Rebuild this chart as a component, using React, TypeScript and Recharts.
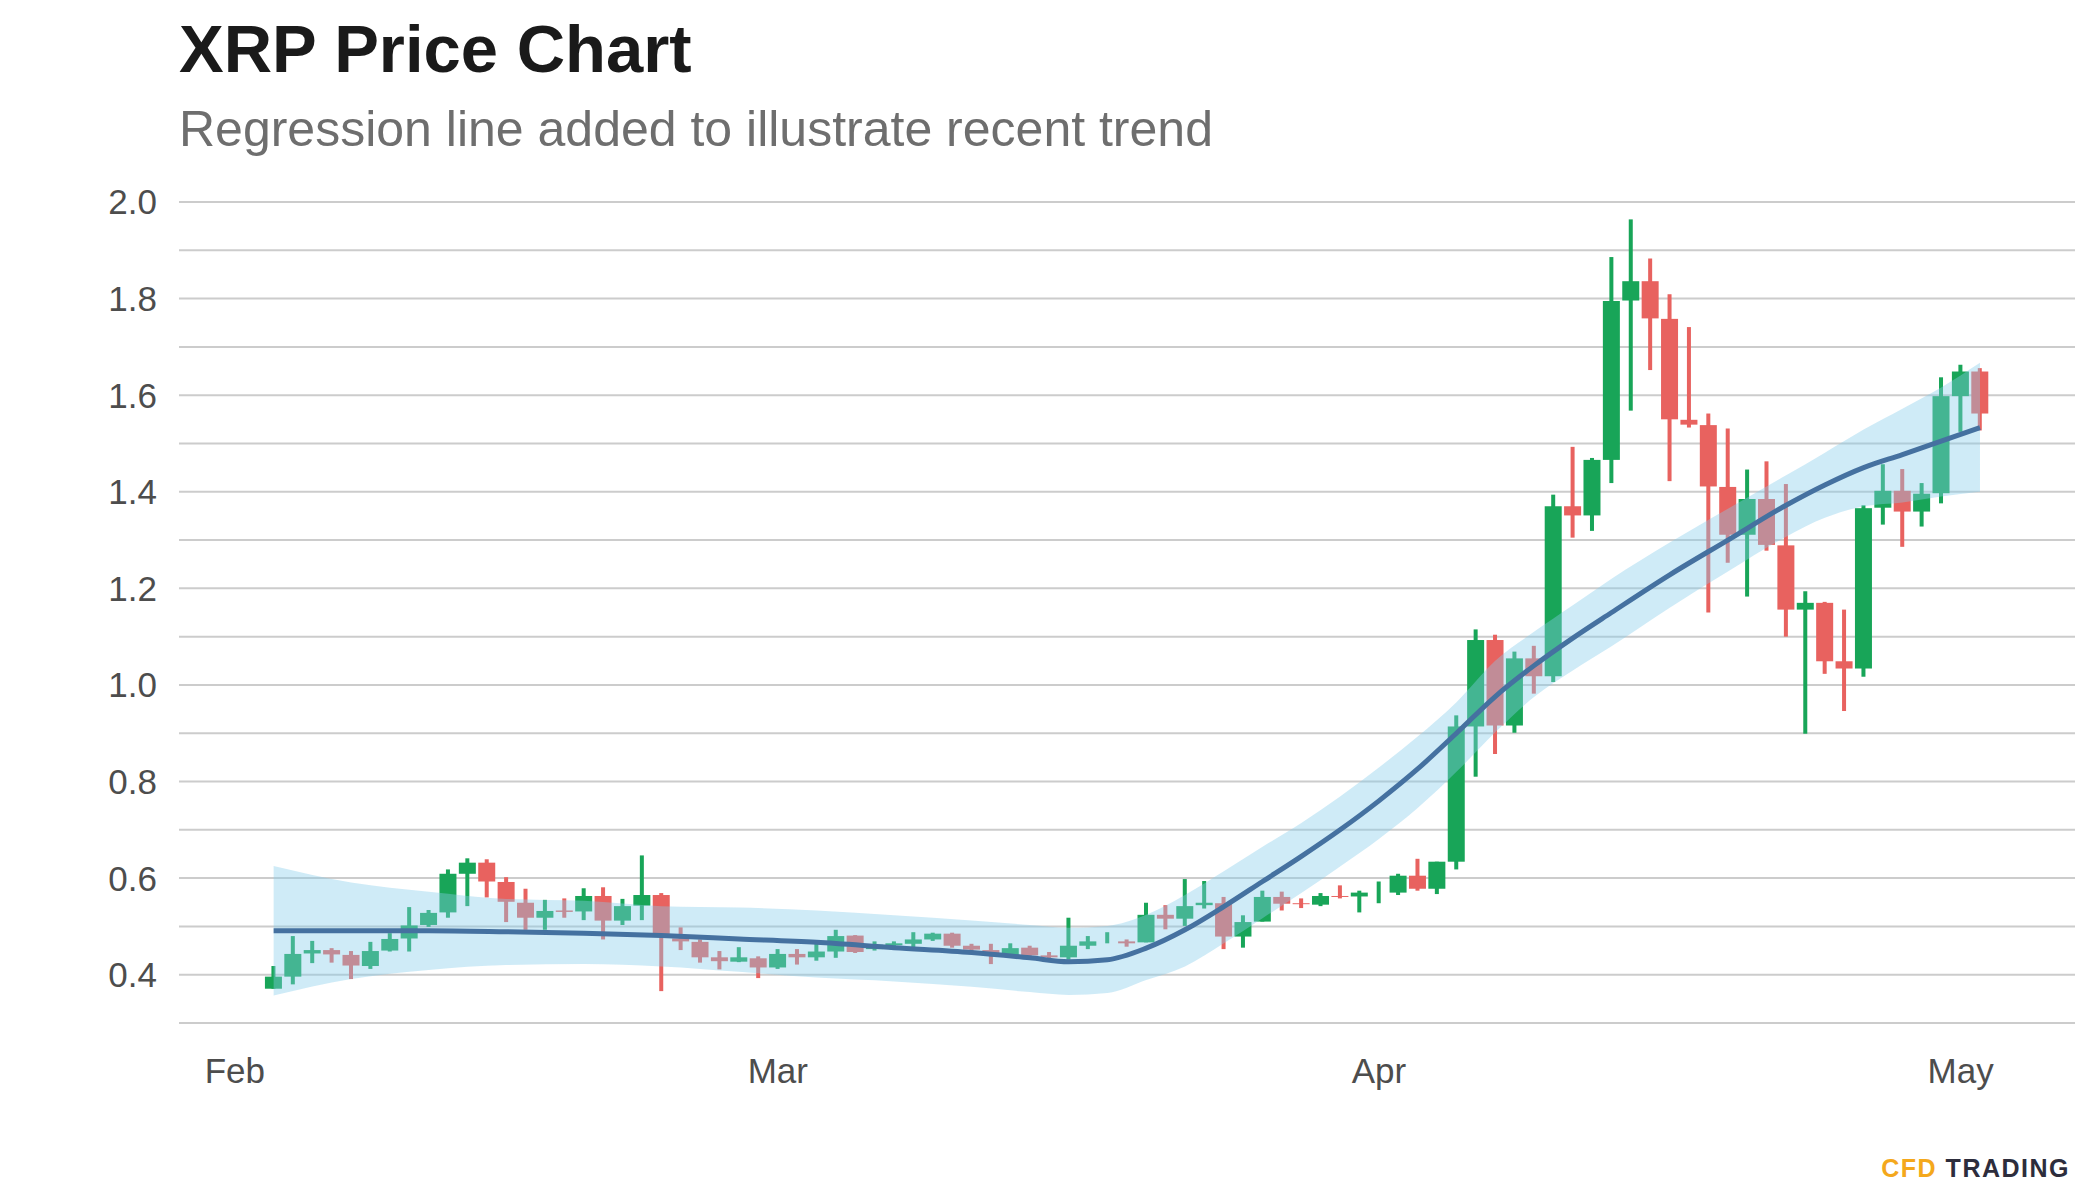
import React from 'react'
import { ComposedChart, Bar, Area, Line, XAxis, YAxis, CartesianGrid } from 'recharts'

const FONT = '"Liberation Sans", Arial, Helvetica, sans-serif'
const GREEN = '#18a558'
const RED = '#e8625f'

// daily candles, first one is Feb 3 (day 0 = Feb 1)
const firstDay = 2
const open = [
  0.371, 0.396, 0.444, 0.451, 0.441, 0.418, 0.450, 0.475, 0.503, 0.529, 0.609, 0.632, 0.592, 0.549, 0.518, 0.533, 0.531, 0.563, 0.512, 0.543, 0.565, 0.475, 0.468, 0.436, 0.427,
  0.434, 0.415, 0.443, 0.436, 0.448, 0.481, 0.453, 0.461, 0.464, 0.473, 0.485, 0.460, 0.451, 0.439, 0.456, 0.440, 0.436, 0.460, 0.475, 0.469,
  0.467, 0.524, 0.516, 0.544, 0.548, 0.479, 0.510, 0.561, 0.548, 0.545, 0.563, 0.562, 0.570, 0.570, 0.605, 0.578, 0.634, 0.914, 1.093, 0.916, 1.055, 1.018,
  1.370, 1.351, 1.466, 1.796, 1.836, 1.758, 1.549, 1.538, 1.410, 1.311, 1.385, 1.289, 1.156, 1.170, 1.049, 1.034, 1.367, 1.402, 1.359, 1.397, 1.598, 1.649,
]
const high = [
  0.418, 0.480, 0.470, 0.455, 0.449, 0.468, 0.486, 0.540, 0.534, 0.618, 0.641, 0.639, 0.602, 0.578, 0.555, 0.558, 0.579, 0.581, 0.557, 0.647, 0.569, 0.498, 0.473, 0.449, 0.457,
  0.438, 0.453, 0.453, 0.465, 0.493, 0.482, 0.469, 0.469, 0.488, 0.487, 0.487, 0.464, 0.464, 0.465, 0.460, 0.447, 0.518, 0.480, 0.488, 0.473,
  0.549, 0.544, 0.598, 0.594, 0.561, 0.523, 0.574, 0.572, 0.558, 0.569, 0.585, 0.574, 0.593, 0.609, 0.640, 0.634, 0.937, 1.115, 1.104, 1.069, 1.081, 1.394,
  1.493, 1.470, 1.886, 1.964, 1.883, 1.809, 1.741, 1.562, 1.531, 1.446, 1.463, 1.416, 1.194, 1.172, 1.156, 1.372, 1.457, 1.447, 1.418, 1.637, 1.663, 1.656,
]
const low = [
  0.371, 0.380, 0.424, 0.425, 0.391, 0.412, 0.448, 0.448, 0.499, 0.518, 0.542, 0.560, 0.509, 0.493, 0.493, 0.518, 0.513, 0.473, 0.503, 0.513, 0.366, 0.451, 0.425, 0.411, 0.426,
  0.393, 0.412, 0.421, 0.429, 0.435, 0.445, 0.450, 0.456, 0.453, 0.470, 0.456, 0.446, 0.422, 0.438, 0.436, 0.431, 0.431, 0.453, 0.465, 0.458,
  0.467, 0.494, 0.501, 0.537, 0.453, 0.456, 0.510, 0.533, 0.538, 0.542, 0.558, 0.529, 0.548, 0.565, 0.574, 0.567, 0.618, 0.810, 0.857, 0.901, 0.982, 1.006,
  1.305, 1.319, 1.418, 1.568, 1.652, 1.422, 1.533, 1.150, 1.253, 1.183, 1.278, 1.100, 0.899, 1.023, 0.946, 1.017, 1.332, 1.286, 1.328, 1.376, 1.524, 1.527,
]
const close = [
  0.396, 0.443, 0.451, 0.442, 0.419, 0.449, 0.474, 0.502, 0.528, 0.609, 0.632, 0.593, 0.551, 0.518, 0.532, 0.530, 0.563, 0.512, 0.542, 0.565, 0.484, 0.469, 0.436, 0.428, 0.436,
  0.415, 0.443, 0.436, 0.448, 0.480, 0.447, 0.462, 0.465, 0.473, 0.485, 0.460, 0.452, 0.441, 0.455, 0.440, 0.436, 0.460, 0.469, 0.475, 0.465,
  0.524, 0.516, 0.542, 0.549, 0.479, 0.509, 0.561, 0.547, 0.546, 0.563, 0.561, 0.570, 0.570, 0.605, 0.578, 0.634, 0.914, 1.093, 0.916, 1.055, 1.018, 1.370,
  1.351, 1.466, 1.795, 1.836, 1.759, 1.550, 1.539, 1.411, 1.311, 1.385, 1.290, 1.156, 1.170, 1.049, 1.034, 1.366, 1.402, 1.359, 1.396, 1.598, 1.649, 1.562,
]

// smoothed trend + confidence band, read at these candle indexes
const trendIdx = [0, 4, 8, 12, 16, 20, 24, 28, 32, 36, 39, 41, 43, 45, 47, 49, 51, 53, 55, 57, 59, 61, 63, 65, 67, 69, 72, 75, 78, 80, 82, 84, 86, 88]
const trendMid = [0.491, 0.491, 0.491, 0.489, 0.486, 0.481, 0.474, 0.467, 0.456, 0.446, 0.435, 0.427, 0.431, 0.455, 0.493, 0.541, 0.593, 0.645, 0.700, 0.760, 0.826, 0.900, 0.976, 1.040, 1.097, 1.150, 1.228, 1.300, 1.372, 1.414, 1.450, 1.477, 1.505, 1.533]
const trendLo = [0.357, 0.391, 0.410, 0.420, 0.422, 0.417, 0.406, 0.394, 0.386, 0.375, 0.364, 0.358, 0.362, 0.389, 0.417, 0.465, 0.517, 0.569, 0.624, 0.681, 0.745, 0.820, 0.902, 0.975, 1.030, 1.080, 1.160, 1.235, 1.307, 1.346, 1.370, 1.378, 1.390, 1.400]
const trendHi = [0.625, 0.591, 0.572, 0.557, 0.553, 0.542, 0.539, 0.533, 0.523, 0.512, 0.503, 0.497, 0.501, 0.524, 0.565, 0.614, 0.665, 0.714, 0.769, 0.829, 0.893, 0.964, 1.050, 1.110, 1.165, 1.220, 1.295, 1.365, 1.434, 1.481, 1.529, 1.572, 1.616, 1.667]

const monthTicks = [0, 28, 59, 89]
const monthLabels = ['Feb', 'Mar', 'Apr', 'May']
const yTicks = [0.3, 0.4, 0.5, 0.6, 0.7, 0.8, 0.9, 1.0, 1.1, 1.2, 1.3, 1.4, 1.5, 1.6, 1.7, 1.8, 1.9, 2.0]

const candles = open.map((o, i) => ({
  day: firstDay + i,
  open: o,
  high: high[i],
  low: low[i],
  close: close[i],
}))

const trend = trendIdx.map((idx, k) => ({
  day: firstDay + idx,
  mid: trendMid[k],
  band: [trendLo[k], trendHi[k]],
}))

function Candle(props: any) {
  const { x, y, width, height, payload } = props
  if (x == null || !payload) return null
  const { open: o, close: c, high: h, low: l } = payload
  const cx = x + width / 2
  const span = h - l
  const py = (v: number) => (span > 0 ? y + ((h - v) / span) * height : y)
  const color = c >= o ? GREEN : RED
  const top = py(Math.max(o, c))
  const bot = py(Math.min(o, c))
  return (
    <g>
      <rect x={cx - 2} y={y} width={4} height={Math.max(height, 1)} fill={color} />
      {bot - top > 0 && <rect x={cx - 8.5} y={top} width={17} height={bot - top} fill={color} />}
    </g>
  )
}

export default function App() {
  return (
    <div style={{ position: 'absolute', left: 0, top: 0, width: 2100, height: 1200, background: '#fff' }}>
      <ComposedChart
        width={2100}
        height={1200}
        data={candles}
        margin={{ top: 202, right: 25, bottom: 117, left: 0 }}
      >
        <CartesianGrid vertical={false} stroke="#cccccc" strokeWidth={2} />
        <XAxis
          type="number"
          dataKey="day"
          domain={[-2.88, 94.9]}
          ticks={monthTicks}
          interval={0}
          allowDataOverflow
          tickFormatter={(v: number) => monthLabels[monthTicks.indexOf(v)] ?? ''}
          axisLine={false}
          tickLine={false}
          tickSize={0}
          tickMargin={35}
          height={60}
          tick={{ fontSize: 35, fill: '#4d4d4d', fontFamily: FONT }}
        />
        <YAxis
          type="number"
          domain={[0.3, 2.0]}
          ticks={yTicks}
          interval={0}
          allowDataOverflow
          tickFormatter={(v: number) => (Math.round(v * 10) % 2 === 0 ? v.toFixed(1) : '')}
          axisLine={false}
          tickLine={false}
          tickSize={0}
          tickMargin={22}
          width={179}
          tick={{ fontSize: 35, fill: '#4d4d4d', fontFamily: FONT }}
        />
        <Bar
          dataKey={(d: any) => [d.low, d.high]}
          barSize={17}
          shape={(p: any) => <Candle {...p} />}
          isAnimationActive={false}
          zIndex={300}
        />
        <Area
          data={trend}
          dataKey="band"
          type="monotone"
          stroke="none"
          fill="#87ceeb"
          fillOpacity={0.4}
          dot={false}
          activeDot={false}
          isAnimationActive={false}
          zIndex={350}
        />
        <Line
          data={trend}
          dataKey="mid"
          type="monotone"
          stroke="#4571a0"
          strokeWidth={5}
          dot={false}
          activeDot={false}
          isAnimationActive={false}
          zIndex={400}
        />
      </ComposedChart>

      <svg width={2100} height={1200} style={{ position: 'absolute', left: 0, top: 0, pointerEvents: 'none' }}>
        <text x={179} y={72} fontFamily={FONT} fontWeight="bold" fontSize={67} fill="#1a1a1a">
          XRP Price Chart
        </text>
        <text x={179} y={146} fontFamily={FONT} fontSize={50} fill="#6e6e6e">
          Regression line added to illustrate recent trend
        </text>
        <text x={2070} y={1177} textAnchor="end" fontFamily={FONT} fontWeight="bold" fontSize={25} letterSpacing={1.5}>
          <tspan fill="#f4a81c">CFD</tspan>
          <tspan fill="#2d2d3c"> TRADING</tspan>
        </text>
      </svg>
    </div>
  )
}
